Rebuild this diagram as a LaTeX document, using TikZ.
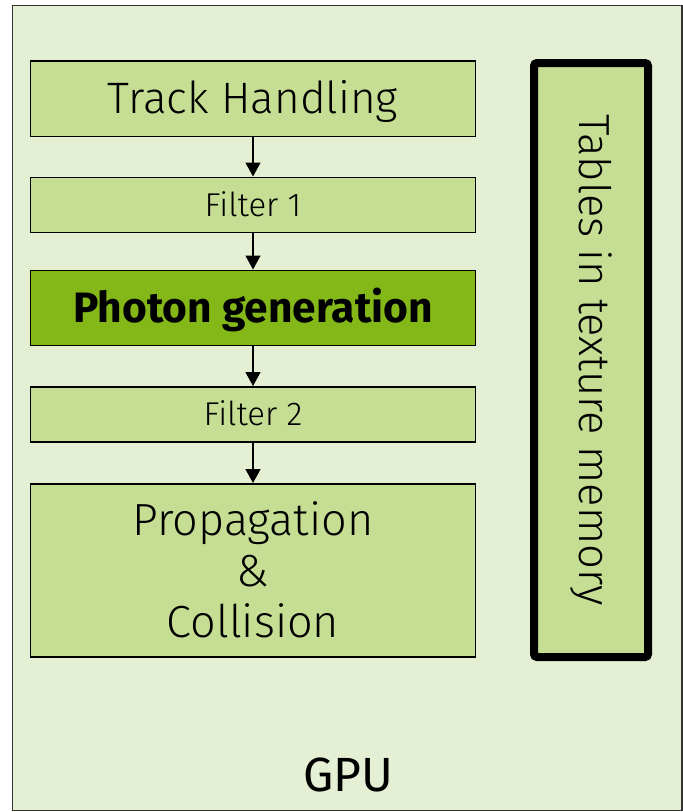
\documentclass[tikz,border=0pt]{standalone}
\usepackage{fontspec}
\setmainfont{Fira Sans Light}[BoldFont={Fira Sans Bold}]
\newfontfamily\gpufont{Fira Sans}
\usetikzlibrary{arrows.meta, positioning}
\definecolor{gpufill}{HTML}{E5EFD3}
\definecolor{gpuedge}{HTML}{333333}
\definecolor{stagefill}{HTML}{C5DE93}
\definecolor{stagehot}{HTML}{84B819}

\tikzset{
  stagebox/.style={draw=black, line width=1.5pt, fill=stagefill,
                   minimum width=445pt, inner sep=0pt, align=center},
  % centre on the capitals
  oneline/.style={text height=#1, text depth=0pt},
  flowarrow/.style={-{Triangle[length=14pt,width=15pt]}, line width=1.4pt},
}

\begin{document}
\begin{tikzpicture}[x=1pt, y=-1pt, node distance=39.5pt]
\useasboundingbox (0,0) rectangle (683,812);
% GPU frame
\node[draw=gpuedge, line width=1.5pt, fill=gpufill, inner sep=0pt,
      minimum width=669.5pt, minimum height=805pt, anchor=north west]
  (gpu) at (11.5,4.5) {};
\node[oneline=33pt, inner sep=0pt, font=\gpufont\fontsize{48}{48}\selectfont]
  (gpulabel) at (348,775) {GPU};

% pipeline stages
\node[stagebox, oneline=30.3pt, minimum height=75.5pt,
      font=\fontsize{44}{44}\selectfont]
  (track) at (253,98.5) {Track Handling};
\node[stagebox, oneline=22.7pt, minimum height=55pt,
      font=\fontsize{33}{33}\selectfont, below=of track] (filterA) {Filter 1};
\node[stagebox, oneline=29.3pt, fill=stagehot, minimum height=75pt,
      font=\fontsize{42.5}{42.5}\selectfont\bfseries, below=36.5pt of filterA]
  (photon) {Photon generation};
\node[stagebox, oneline=22.7pt, minimum height=55pt,
      font=\fontsize{33}{33}\selectfont, below=40pt of photon] (filterB) {Filter 2};
\node[stagebox, minimum height=173pt, font=\fontsize{45}{51}\selectfont,
      below=40.5pt of filterB] (prop) {Propagation\\\&\\Collision};

\draw[flowarrow] (track) -- (filterA);
\draw[flowarrow] (filterA) -- (photon);
\draw[flowarrow] (photon) -- (filterB);
\draw[flowarrow] (filterB) -- (prop);

% lookup tables
\node[draw=black, line width=8pt, rounded corners=3pt, fill=stagefill,
      rotate=-90, minimum width=594pt, minimum height=114pt, inner sep=0pt,
      font=\fontsize{43.5}{43.5}\selectfont]
  (tables) at (591,360) {Tables in texture memory};
\end{tikzpicture}
\end{document}
